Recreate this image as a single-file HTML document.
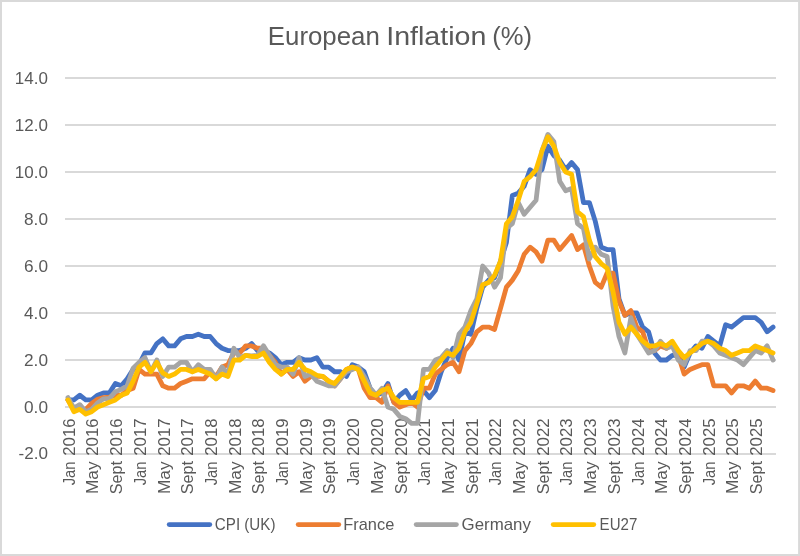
<!DOCTYPE html>
<html><head><meta charset="utf-8"><title>European Inflation (%)</title>
<style>
html,body{margin:0;padding:0;background:#fff;}
body{width:800px;height:556px;overflow:hidden;}
svg{display:block;will-change:transform;}
text{font-family:"Liberation Sans",sans-serif;fill:#595959;}
</style></head><body>
<svg width="800" height="556" viewBox="0 0 800 556">
<rect x="0" y="0" width="800" height="556" fill="#d9d9d9"/>
<rect x="2" y="2" width="796.1" height="552" fill="#ffffff"/>

<rect x="65" y="77.0" width="711" height="2" fill="#d9d9d9"/>
<rect x="65" y="124.0" width="711" height="2" fill="#d9d9d9"/>
<rect x="65" y="171.0" width="711" height="2" fill="#d9d9d9"/>
<rect x="65" y="218.0" width="711" height="2" fill="#d9d9d9"/>
<rect x="65" y="265.0" width="711" height="2" fill="#d9d9d9"/>
<rect x="65" y="312.0" width="711" height="2" fill="#d9d9d9"/>
<rect x="65" y="359.0" width="711" height="2" fill="#d9d9d9"/>
<rect x="65" y="406.0" width="711" height="2" fill="#d9d9d9"/>
<rect x="65" y="453.0" width="711" height="2" fill="#d9d9d9"/>
<text x="267.8" y="44.6" font-size="25" textLength="112.0" lengthAdjust="spacingAndGlyphs">European</text>
<text x="386.2" y="44.6" font-size="25" textLength="100.2" lengthAdjust="spacingAndGlyphs">Inflation</text>
<text x="492.3" y="44.6" font-size="25" textLength="39.8" lengthAdjust="spacingAndGlyphs">(%)</text>
<text x="14.89" y="83.9" font-size="16.5" textLength="33.11" lengthAdjust="spacingAndGlyphs">14.0</text>
<text x="14.89" y="130.9" font-size="16.5" textLength="33.11" lengthAdjust="spacingAndGlyphs">12.0</text>
<text x="14.89" y="177.9" font-size="16.5" textLength="33.11" lengthAdjust="spacingAndGlyphs">10.0</text>
<text x="24.06" y="224.9" font-size="16.5" textLength="23.94" lengthAdjust="spacingAndGlyphs">8.0</text>
<text x="24.06" y="271.9" font-size="16.5" textLength="23.94" lengthAdjust="spacingAndGlyphs">6.0</text>
<text x="24.06" y="318.9" font-size="16.5" textLength="23.94" lengthAdjust="spacingAndGlyphs">4.0</text>
<text x="24.06" y="365.9" font-size="16.5" textLength="23.94" lengthAdjust="spacingAndGlyphs">2.0</text>
<text x="24.06" y="412.9" font-size="16.5" textLength="23.94" lengthAdjust="spacingAndGlyphs">0.0</text>
<text x="18.57" y="459.3" font-size="16.5" textLength="29.43" lengthAdjust="spacingAndGlyphs">-2.0</text>
<g transform="translate(74.76,0) rotate(-90)"><text x="-418.4" y="0" font-size="16.5" text-anchor="end" textLength="37.4" lengthAdjust="spacingAndGlyphs">2016</text><text x="-485.3" y="0" font-size="16.5" textLength="23.6" lengthAdjust="spacingAndGlyphs">Jan</text></g>
<g transform="translate(98.46,0) rotate(-90)"><text x="-418.4" y="0" font-size="16.5" text-anchor="end" textLength="37.4" lengthAdjust="spacingAndGlyphs">2016</text><text x="-494.0" y="0" font-size="16.5" textLength="32.5" lengthAdjust="spacingAndGlyphs">May</text></g>
<g transform="translate(122.16,0) rotate(-90)"><text x="-418.4" y="0" font-size="16.5" text-anchor="end" textLength="37.4" lengthAdjust="spacingAndGlyphs">2016</text><text x="-494.3" y="0" font-size="16.5" textLength="33.4" lengthAdjust="spacingAndGlyphs">Sept</text></g>
<g transform="translate(145.86,0) rotate(-90)"><text x="-418.4" y="0" font-size="16.5" text-anchor="end" textLength="37.4" lengthAdjust="spacingAndGlyphs">2017</text><text x="-485.3" y="0" font-size="16.5" textLength="23.6" lengthAdjust="spacingAndGlyphs">Jan</text></g>
<g transform="translate(169.56,0) rotate(-90)"><text x="-418.4" y="0" font-size="16.5" text-anchor="end" textLength="37.4" lengthAdjust="spacingAndGlyphs">2017</text><text x="-494.0" y="0" font-size="16.5" textLength="32.5" lengthAdjust="spacingAndGlyphs">May</text></g>
<g transform="translate(193.26,0) rotate(-90)"><text x="-418.4" y="0" font-size="16.5" text-anchor="end" textLength="37.4" lengthAdjust="spacingAndGlyphs">2017</text><text x="-494.3" y="0" font-size="16.5" textLength="33.4" lengthAdjust="spacingAndGlyphs">Sept</text></g>
<g transform="translate(216.96,0) rotate(-90)"><text x="-418.4" y="0" font-size="16.5" text-anchor="end" textLength="37.4" lengthAdjust="spacingAndGlyphs">2018</text><text x="-485.3" y="0" font-size="16.5" textLength="23.6" lengthAdjust="spacingAndGlyphs">Jan</text></g>
<g transform="translate(240.66,0) rotate(-90)"><text x="-418.4" y="0" font-size="16.5" text-anchor="end" textLength="37.4" lengthAdjust="spacingAndGlyphs">2018</text><text x="-494.0" y="0" font-size="16.5" textLength="32.5" lengthAdjust="spacingAndGlyphs">May</text></g>
<g transform="translate(264.36,0) rotate(-90)"><text x="-418.4" y="0" font-size="16.5" text-anchor="end" textLength="37.4" lengthAdjust="spacingAndGlyphs">2018</text><text x="-494.3" y="0" font-size="16.5" textLength="33.4" lengthAdjust="spacingAndGlyphs">Sept</text></g>
<g transform="translate(288.06,0) rotate(-90)"><text x="-418.4" y="0" font-size="16.5" text-anchor="end" textLength="37.4" lengthAdjust="spacingAndGlyphs">2019</text><text x="-485.3" y="0" font-size="16.5" textLength="23.6" lengthAdjust="spacingAndGlyphs">Jan</text></g>
<g transform="translate(311.76,0) rotate(-90)"><text x="-418.4" y="0" font-size="16.5" text-anchor="end" textLength="37.4" lengthAdjust="spacingAndGlyphs">2019</text><text x="-494.0" y="0" font-size="16.5" textLength="32.5" lengthAdjust="spacingAndGlyphs">May</text></g>
<g transform="translate(335.46,0) rotate(-90)"><text x="-418.4" y="0" font-size="16.5" text-anchor="end" textLength="37.4" lengthAdjust="spacingAndGlyphs">2019</text><text x="-494.3" y="0" font-size="16.5" textLength="33.4" lengthAdjust="spacingAndGlyphs">Sept</text></g>
<g transform="translate(359.16,0) rotate(-90)"><text x="-418.4" y="0" font-size="16.5" text-anchor="end" textLength="37.4" lengthAdjust="spacingAndGlyphs">2020</text><text x="-485.3" y="0" font-size="16.5" textLength="23.6" lengthAdjust="spacingAndGlyphs">Jan</text></g>
<g transform="translate(382.86,0) rotate(-90)"><text x="-418.4" y="0" font-size="16.5" text-anchor="end" textLength="37.4" lengthAdjust="spacingAndGlyphs">2020</text><text x="-494.0" y="0" font-size="16.5" textLength="32.5" lengthAdjust="spacingAndGlyphs">May</text></g>
<g transform="translate(406.56,0) rotate(-90)"><text x="-418.4" y="0" font-size="16.5" text-anchor="end" textLength="37.4" lengthAdjust="spacingAndGlyphs">2020</text><text x="-494.3" y="0" font-size="16.5" textLength="33.4" lengthAdjust="spacingAndGlyphs">Sept</text></g>
<g transform="translate(430.26,0) rotate(-90)"><text x="-418.4" y="0" font-size="16.5" text-anchor="end" textLength="37.4" lengthAdjust="spacingAndGlyphs">2021</text><text x="-485.3" y="0" font-size="16.5" textLength="23.6" lengthAdjust="spacingAndGlyphs">Jan</text></g>
<g transform="translate(453.96,0) rotate(-90)"><text x="-418.4" y="0" font-size="16.5" text-anchor="end" textLength="37.4" lengthAdjust="spacingAndGlyphs">2021</text><text x="-494.0" y="0" font-size="16.5" textLength="32.5" lengthAdjust="spacingAndGlyphs">May</text></g>
<g transform="translate(477.66,0) rotate(-90)"><text x="-418.4" y="0" font-size="16.5" text-anchor="end" textLength="37.4" lengthAdjust="spacingAndGlyphs">2021</text><text x="-494.3" y="0" font-size="16.5" textLength="33.4" lengthAdjust="spacingAndGlyphs">Sept</text></g>
<g transform="translate(501.36,0) rotate(-90)"><text x="-418.4" y="0" font-size="16.5" text-anchor="end" textLength="37.4" lengthAdjust="spacingAndGlyphs">2022</text><text x="-485.3" y="0" font-size="16.5" textLength="23.6" lengthAdjust="spacingAndGlyphs">Jan</text></g>
<g transform="translate(525.06,0) rotate(-90)"><text x="-418.4" y="0" font-size="16.5" text-anchor="end" textLength="37.4" lengthAdjust="spacingAndGlyphs">2022</text><text x="-494.0" y="0" font-size="16.5" textLength="32.5" lengthAdjust="spacingAndGlyphs">May</text></g>
<g transform="translate(548.76,0) rotate(-90)"><text x="-418.4" y="0" font-size="16.5" text-anchor="end" textLength="37.4" lengthAdjust="spacingAndGlyphs">2022</text><text x="-494.3" y="0" font-size="16.5" textLength="33.4" lengthAdjust="spacingAndGlyphs">Sept</text></g>
<g transform="translate(572.46,0) rotate(-90)"><text x="-418.4" y="0" font-size="16.5" text-anchor="end" textLength="37.4" lengthAdjust="spacingAndGlyphs">2023</text><text x="-485.3" y="0" font-size="16.5" textLength="23.6" lengthAdjust="spacingAndGlyphs">Jan</text></g>
<g transform="translate(596.16,0) rotate(-90)"><text x="-418.4" y="0" font-size="16.5" text-anchor="end" textLength="37.4" lengthAdjust="spacingAndGlyphs">2023</text><text x="-494.0" y="0" font-size="16.5" textLength="32.5" lengthAdjust="spacingAndGlyphs">May</text></g>
<g transform="translate(619.86,0) rotate(-90)"><text x="-418.4" y="0" font-size="16.5" text-anchor="end" textLength="37.4" lengthAdjust="spacingAndGlyphs">2023</text><text x="-494.3" y="0" font-size="16.5" textLength="33.4" lengthAdjust="spacingAndGlyphs">Sept</text></g>
<g transform="translate(643.56,0) rotate(-90)"><text x="-418.4" y="0" font-size="16.5" text-anchor="end" textLength="37.4" lengthAdjust="spacingAndGlyphs">2024</text><text x="-485.3" y="0" font-size="16.5" textLength="23.6" lengthAdjust="spacingAndGlyphs">Jan</text></g>
<g transform="translate(667.26,0) rotate(-90)"><text x="-418.4" y="0" font-size="16.5" text-anchor="end" textLength="37.4" lengthAdjust="spacingAndGlyphs">2024</text><text x="-494.0" y="0" font-size="16.5" textLength="32.5" lengthAdjust="spacingAndGlyphs">May</text></g>
<g transform="translate(690.96,0) rotate(-90)"><text x="-418.4" y="0" font-size="16.5" text-anchor="end" textLength="37.4" lengthAdjust="spacingAndGlyphs">2024</text><text x="-494.3" y="0" font-size="16.5" textLength="33.4" lengthAdjust="spacingAndGlyphs">Sept</text></g>
<g transform="translate(714.66,0) rotate(-90)"><text x="-418.4" y="0" font-size="16.5" text-anchor="end" textLength="37.4" lengthAdjust="spacingAndGlyphs">2025</text><text x="-485.3" y="0" font-size="16.5" textLength="23.6" lengthAdjust="spacingAndGlyphs">Jan</text></g>
<g transform="translate(738.36,0) rotate(-90)"><text x="-418.4" y="0" font-size="16.5" text-anchor="end" textLength="37.4" lengthAdjust="spacingAndGlyphs">2025</text><text x="-494.0" y="0" font-size="16.5" textLength="32.5" lengthAdjust="spacingAndGlyphs">May</text></g>
<g transform="translate(762.06,0) rotate(-90)"><text x="-418.4" y="0" font-size="16.5" text-anchor="end" textLength="37.4" lengthAdjust="spacingAndGlyphs">2025</text><text x="-494.3" y="0" font-size="16.5" textLength="33.4" lengthAdjust="spacingAndGlyphs">Sept</text></g>
<polyline points="67.96,399.95 73.89,399.95 79.81,395.25 85.74,399.95 91.66,399.95 97.59,395.25 103.51,392.90 109.44,392.90 115.36,383.50 121.29,385.85 127.21,378.80 133.14,369.40 139.06,364.70 144.99,352.95 150.91,352.95 156.84,343.55 162.76,338.85 168.69,345.90 174.61,345.90 180.54,338.85 186.46,336.50 192.39,336.50 198.31,334.15 204.24,336.50 210.16,336.50 216.09,343.55 222.01,348.25 227.94,350.60 233.86,350.60 239.79,350.60 245.71,348.25 251.64,343.55 257.56,350.60 263.49,350.60 269.41,352.95 275.34,357.65 281.26,364.70 287.19,362.35 293.11,362.35 299.04,357.65 304.96,360.00 310.89,360.00 316.81,357.65 322.74,367.05 328.66,367.05 334.59,371.75 340.51,371.75 346.44,376.45 352.36,364.70 358.29,367.05 364.21,371.75 370.14,388.20 376.06,395.25 381.99,392.90 387.91,383.50 393.84,402.30 399.76,395.25 405.69,390.55 411.61,399.95 417.54,392.90 423.46,390.55 429.39,397.60 435.31,390.55 441.24,371.75 447.16,357.65 453.09,348.25 459.01,360.00 464.94,331.80 470.86,334.15 476.79,308.30 482.71,287.15 488.64,280.10 494.56,277.75 500.49,261.30 506.41,242.50 512.34,195.50 518.26,193.15 524.19,186.10 530.11,169.65 536.04,174.35 541.96,169.65 547.89,146.15 553.81,155.55 559.74,160.25 565.66,169.65 571.59,162.60 577.51,169.65 583.44,202.55 589.36,202.55 595.29,221.35 601.21,247.20 607.14,249.55 613.06,249.55 618.99,298.90 624.91,315.35 630.84,313.00 636.76,313.00 642.69,327.10 648.61,331.80 654.54,352.95 660.46,360.00 666.39,360.00 672.31,355.30 678.24,355.30 684.16,367.05 690.09,352.95 696.01,345.90 701.94,348.25 707.86,336.50 713.79,341.20 719.71,345.90 725.64,324.75 731.56,327.10 737.49,322.40 743.41,317.70 749.34,317.70 755.26,317.70 761.19,322.40 767.11,331.80 773.04,327.10" fill="none" stroke="#4472c4" stroke-width="4.8" stroke-linejoin="round" stroke-linecap="round"/>
<polyline points="67.96,399.95 73.89,409.35 79.81,409.35 85.74,409.35 91.66,403.48 97.59,399.25 103.51,397.60 109.44,397.13 115.36,395.25 121.29,395.25 127.21,390.55 133.14,388.20 139.06,369.40 144.99,374.10 150.91,374.10 156.84,374.10 162.76,385.85 168.69,388.20 174.61,388.20 180.54,383.50 186.46,381.15 192.39,378.80 198.31,378.80 204.24,378.80 210.16,371.75 216.09,376.45 222.01,367.05 227.94,364.70 233.86,352.95 239.79,352.95 245.71,345.90 251.64,345.90 257.56,348.25 263.49,348.25 269.41,355.30 275.34,362.35 281.26,374.10 287.19,369.40 293.11,376.45 299.04,371.75 304.96,381.15 310.89,376.45 316.81,376.45 322.74,376.45 328.66,381.15 334.59,385.85 340.51,378.80 346.44,369.40 352.36,367.05 358.29,369.40 364.21,388.20 370.14,397.60 376.06,397.60 381.99,402.30 387.91,385.85 393.84,402.30 399.76,407.00 405.69,404.65 411.61,402.30 417.54,407.00 423.46,388.20 429.39,388.20 435.31,374.10 441.24,369.40 447.16,364.70 453.09,362.35 459.01,371.75 464.94,350.60 470.86,343.55 476.79,331.80 482.71,327.10 488.64,327.10 494.56,329.45 500.49,308.30 506.41,287.15 512.34,280.10 518.26,270.70 524.19,254.25 530.11,247.20 536.04,251.90 541.96,261.30 547.89,240.15 553.81,240.15 559.74,249.55 565.66,242.50 571.59,235.45 577.51,249.55 583.44,244.85 589.36,266.00 595.29,282.45 601.21,287.15 607.14,273.05 613.06,273.05 618.99,301.25 624.91,315.35 630.84,310.65 636.76,327.10 642.69,331.80 648.61,350.60 654.54,350.60 660.46,345.90 666.39,348.25 672.31,343.55 678.24,355.30 684.16,374.10 690.09,369.40 696.01,367.05 701.94,364.70 707.86,364.70 713.79,385.85 719.71,385.85 725.64,385.85 731.56,392.90 737.49,385.85 743.41,385.85 749.34,388.20 755.26,381.15 761.19,388.20 767.11,388.20 773.04,390.55" fill="none" stroke="#ed7d31" stroke-width="4.8" stroke-linejoin="round" stroke-linecap="round"/>
<polyline points="67.96,397.60 73.89,408.18 79.81,404.65 85.74,411.70 91.66,409.35 97.59,403.00 103.51,398.77 109.44,398.31 115.36,391.73 121.29,389.38 127.21,385.85 133.14,368.23 139.06,362.35 144.99,357.65 150.91,371.75 156.84,360.00 162.76,376.45 168.69,367.05 174.61,367.05 180.54,362.35 186.46,362.35 192.39,371.75 198.31,364.70 204.24,369.40 210.16,369.40 216.09,378.80 222.01,367.05 227.94,374.10 233.86,348.25 239.79,357.65 245.71,355.30 251.64,356.00 257.56,355.30 263.49,345.90 269.41,355.30 275.34,364.70 281.26,367.05 287.19,367.05 293.11,374.10 299.04,357.65 304.96,376.45 310.89,374.10 316.81,381.15 322.74,383.50 328.66,385.85 334.59,385.85 340.51,378.80 346.44,371.75 352.36,369.40 358.29,367.05 364.21,376.45 370.14,388.20 376.06,395.25 381.99,388.20 387.91,407.00 393.84,409.35 399.76,416.40 405.69,418.75 411.61,423.45 417.54,423.45 423.46,369.40 429.39,369.40 435.31,360.00 441.24,357.65 447.16,350.60 453.09,357.65 459.01,334.15 464.94,327.10 470.86,310.65 476.79,298.90 482.71,266.00 488.64,273.05 494.56,287.15 500.49,277.75 506.41,228.40 512.34,223.70 518.26,202.55 524.19,214.30 530.11,207.25 536.04,200.20 541.96,150.85 547.89,134.40 553.81,141.45 559.74,181.40 565.66,190.80 571.59,188.45 577.51,223.70 583.44,228.40 589.36,258.95 595.29,247.20 601.21,254.25 607.14,256.60 613.06,305.95 618.99,336.50 624.91,352.95 630.84,317.70 636.76,334.15 642.69,343.55 648.61,352.95 654.54,350.60 660.46,341.20 666.39,348.25 672.31,345.90 678.24,360.00 684.16,364.70 690.09,350.60 696.01,350.60 701.94,341.20 707.86,341.20 713.79,345.90 719.71,352.95 725.64,355.30 731.56,357.65 737.49,360.00 743.41,364.70 749.34,357.65 755.26,350.60 761.19,352.95 767.11,345.90 773.04,360.00" fill="none" stroke="#a5a5a5" stroke-width="4.8" stroke-linejoin="round" stroke-linecap="round"/>
<polyline points="67.96,399.95 73.89,411.70 79.81,409.35 85.74,414.05 91.66,411.70 97.59,407.00 103.51,404.65 109.44,402.30 115.36,399.95 121.29,395.25 127.21,392.90 133.14,381.15 139.06,367.05 144.99,362.35 150.91,371.75 156.84,362.35 162.76,372.93 168.69,376.45 174.61,374.10 180.54,369.40 186.46,369.40 192.39,371.75 198.31,369.40 204.24,371.75 210.16,374.10 216.09,378.80 222.01,374.10 227.94,376.45 233.86,360.00 239.79,360.00 245.71,355.30 251.64,356.48 257.56,356.48 263.49,352.95 269.41,362.35 275.34,369.40 281.26,374.10 287.19,369.40 293.11,369.40 299.04,362.35 304.96,369.40 310.89,371.75 316.81,375.27 322.74,376.45 328.66,381.15 334.59,383.50 340.51,376.45 346.44,369.40 352.36,367.05 358.29,369.40 364.21,381.15 370.14,392.90 376.06,395.25 381.99,390.55 387.91,388.20 393.84,397.60 399.76,402.30 405.69,402.30 411.61,402.30 417.54,402.30 423.46,378.80 429.39,376.45 435.31,367.05 441.24,360.00 447.16,352.95 453.09,355.30 459.01,348.25 464.94,331.80 470.86,322.40 476.79,303.60 482.71,284.80 488.64,282.45 494.56,275.40 500.49,261.30 506.41,223.70 512.34,216.65 518.26,200.20 524.19,181.40 530.11,176.70 536.04,169.65 541.96,150.85 547.89,136.75 553.81,146.15 559.74,162.60 565.66,172.00 571.59,174.35 577.51,211.95 583.44,216.65 589.36,240.15 595.29,256.60 601.21,263.65 607.14,268.35 613.06,291.85 618.99,322.40 624.91,334.15 630.84,327.10 636.76,334.15 642.69,341.20 648.61,345.90 654.54,345.90 660.46,343.55 666.39,345.90 672.31,341.20 678.24,350.60 684.16,357.65 690.09,352.95 696.01,348.25 701.94,343.55 707.86,341.20 713.79,343.55 719.71,348.25 725.64,350.60 731.56,355.30 737.49,352.95 743.41,350.60 749.34,350.60 755.26,345.90 761.19,348.25 767.11,350.60 773.04,352.95" fill="none" stroke="#ffc000" stroke-width="4.8" stroke-linejoin="round" stroke-linecap="round"/>
<line x1="169.2" y1="524.6" x2="209.8" y2="524.6" stroke="#4472c4" stroke-width="4.8" stroke-linecap="round"/>
<text x="214.8" y="530" font-size="16.2" textLength="60.7" lengthAdjust="spacingAndGlyphs">CPI (UK)</text>
<line x1="298.2" y1="524.6" x2="338.8" y2="524.6" stroke="#ed7d31" stroke-width="4.8" stroke-linecap="round"/>
<text x="343.3" y="530" font-size="16.2" textLength="51.0" lengthAdjust="spacingAndGlyphs">France</text>
<line x1="416.2" y1="524.6" x2="456.40000000000003" y2="524.6" stroke="#a5a5a5" stroke-width="4.8" stroke-linecap="round"/>
<text x="461.6" y="530" font-size="16.2" textLength="69.3" lengthAdjust="spacingAndGlyphs">Germany</text>
<line x1="553.2" y1="524.6" x2="593.8" y2="524.6" stroke="#ffc000" stroke-width="4.8" stroke-linecap="round"/>
<text x="599.6" y="530" font-size="16.2" textLength="37.7" lengthAdjust="spacingAndGlyphs">EU27</text>
</svg></body></html>
